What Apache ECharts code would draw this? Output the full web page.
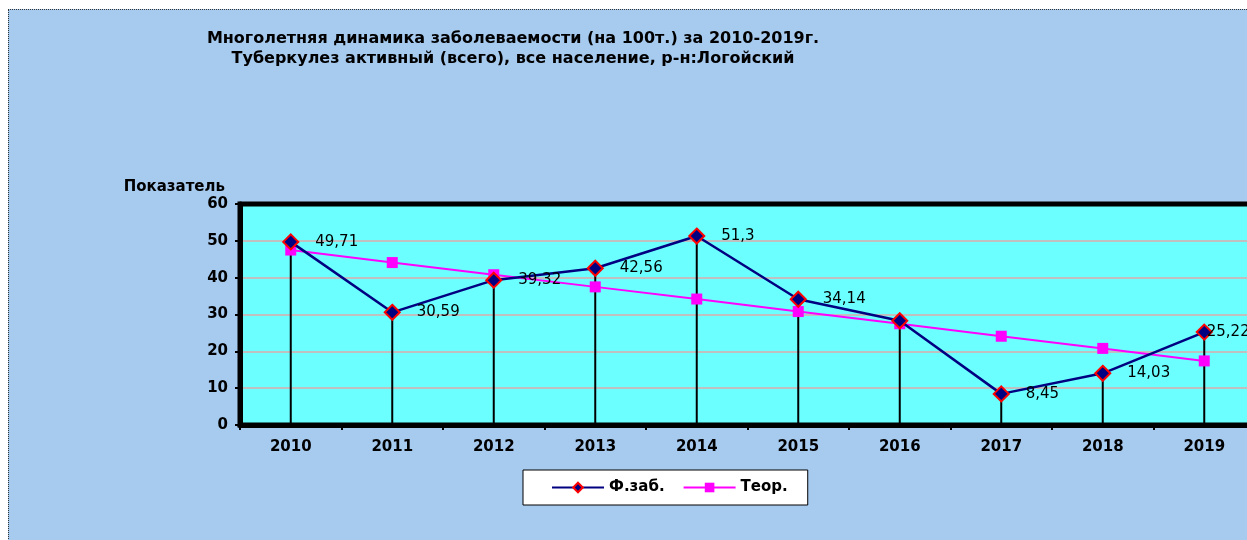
<!DOCTYPE html>
<html>
<head>
<meta charset="utf-8">
<script src="https://cdn.jsdelivr.net/npm/echarts@6/dist/echarts.min.js"></script>
<style>
  html, body { margin:0; padding:0; background:#ffffff; width:1247px; height:540px; overflow:hidden; }
  #frame { position:absolute; left:8px; top:9px; width:1247px; height:540px; background:#A7CAEF;
           border-left:1px dotted #333; border-top:1px dotted #333; box-sizing:border-box; }
  #chart { position:absolute; left:0; top:0; width:1247px; height:540px; }
</style>
</head>
<body>
<div id="frame"></div>
<div id="chart"></div>
<script>
const titleLines = ['Многолетняя динамика заболеваемости (на 100т.) за 2010-2019г.',
                    'Туберкулез активный (всего), все население, р-н:Логойский'];
const yAxisTitle = 'Показатель';
const categories = ['2010','2011','2012','2013','2014','2015','2016','2017','2018','2019'];
const factValues = [49.71, 30.59, 39.32, 42.56, 51.3, 34.14, 28.3, 8.45, 14.03, 25.22];
const theorValues = [47.5, 44.1, 40.8, 37.5, 34.2, 30.8, 27.5, 24.1, 20.8, 17.4];
const factName = 'Ф.заб.';
const theorName = 'Теор.';
const hiddenLabelIndex = 6;

const FONT = '"DejaVu Sans", "Liberation Sans", Arial, sans-serif';
const chart = echarts.init(document.getElementById('chart'), null, {renderer:'canvas'});

const factData = factValues.map((v, i) => {
  const item = { value: v };
  if (i === hiddenLabelIndex) item.label = { show: false };
  if (i === categories.length - 1) item.label = { distance: -6 };
  return item;
});

chart.setOption({
  animation: false,
  backgroundColor: 'transparent',
  title: {
    text: titleLines.join('\n'),
    left: 508, top: 24, textAlign: 'center',
    textStyle: { fontFamily: FONT, fontWeight: 'bold', fontSize: 16, color: '#000', lineHeight: 20 }
  },
  graphic: [{
    type: 'text', x: 225, y: 187,
    style: { text: yAxisTitle, font: 'bold 15px ' + FONT, fill: '#000', align: 'right', verticalAlign: 'middle' }
  }],
  legend: {
    left: 523, top: 470,
    backgroundColor: '#ffffff', borderColor: '#000', borderWidth: 1, borderRadius: 0,
    padding: [10, 20, 10, 28], itemGap: 18, itemWidth: 52, itemHeight: 12,
    textStyle: { fontFamily: FONT, fontWeight: 'bold', fontSize: 15, color: '#000' },
    data: [factName, theorName]
  },
  grid: {
    left: 240, top: 204, width: 1015, height: 221,
    outerBoundsMode: 'none',
    show: true, backgroundColor: '#6BFFFF', borderColor: '#000', borderWidth: 5
  },
  xAxis: {
    type: 'category', data: categories, boundaryGap: true,
    axisLine: { lineStyle: { color: '#000', width: 5 } },
    axisTick: { show: true, length: 5, lineStyle: { color: '#000', width: 2 } },
    axisLabel: { fontFamily: FONT, fontWeight: 'bold', fontSize: 15, color: '#000', margin: 15 },
    splitLine: { show: false }
  },
  yAxis: {
    type: 'value', min: 0, max: 60, interval: 10,
    axisLine: { show: true, lineStyle: { color: '#000', width: 5 } },
    axisTick: { show: true, length: 5, lineStyle: { color: '#000', width: 2 } },
    axisLabel: { fontFamily: FONT, fontWeight: 'bold', fontSize: 15, color: '#000', margin: 12 },
    splitLine: { show: true, showMaxLine: false, showMinLine: false, lineStyle: { color: '#C0C0C0', width: 2 } }
  },
  series: [
    {
      name: 'drop', type: 'bar', data: factValues, barWidth: 2, z: 1,
      itemStyle: { color: '#000' }, silent: true, legendHoverLink: false
    },
    {
      name: theorName, type: 'line', data: theorValues, z: 3,
      symbol: 'rect', symbolSize: 11,
      lineStyle: { color: '#FF00FF', width: 2 },
      itemStyle: { color: '#FF00FF', borderWidth: 0 }
    },
    {
      name: factName, type: 'line', data: factData, z: 4,
      symbol: 'diamond', symbolSize: 15,
      lineStyle: { color: '#000080', width: 2.5 },
      itemStyle: { color: '#000080', borderColor: '#FF0000', borderWidth: 2 },
      label: {
        show: true, position: 'right', distance: 16,
        fontFamily: FONT, fontSize: 15, color: '#000',
        formatter: p => String(p.value).replace('.', ',')
      }
    }
  ]
});
</script>
</body>
</html>
